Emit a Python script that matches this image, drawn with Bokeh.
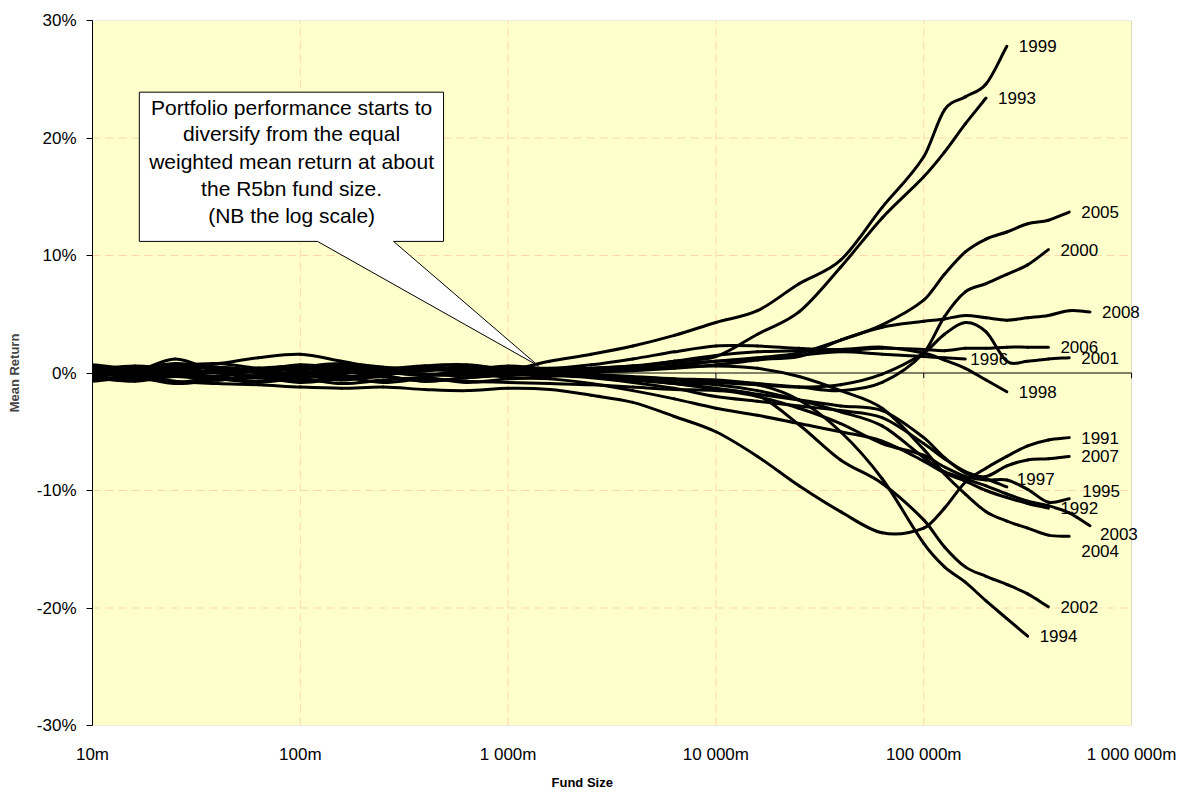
import math
from bokeh.plotting import figure
from bokeh.models import FixedTicker, Range1d, Label, BoxAnnotation, Title
from bokeh.core.properties import value
from bokeh.embed import file_html
from bokeh.resources import INLINE

# Fund size grid (Rm), log spaced
FUND_SIZE = [10, 16, 25, 40, 63, 100, 158, 251, 398, 631, 1000, 1585, 2512, 3981, 6310,
             10000, 15849, 25119, 39811, 63096, 100000, 125893, 158489, 199526, 251189,
             316228, 398107, 501187, 630957]

# Mean return (%) per year, aligned with FUND_SIZE (each series ends at its last point)
R1991 = [-0.3, -0.1, -0.7, -0.9, -1.0, -1.2, -1.3, -1.2, -1.4, -1.5, -1.3, -1.4, -1.9, -2.5, -3.7,
         -5.0, -7.1, -9.6, -11.8, -13.6, -13.2, -11.5, -9.3, -8.1, -7.1, -6.2, -5.7, -5.5]
R1992 = [0.1, 0.4, 0.0, -0.3, 0.2, -0.4, -0.1, 0.3, -0.2, 0.1, -0.4, -0.5, -0.9, -1.5, -2.2,
         -3.0, -3.6, -4.3, -5.0, -5.8, -7.5, -8.5, -9.2, -10.0, -10.6, -11.1, -11.5]
R1993 = [-0.2, 0.1, 1.2, 0.1, -0.3, 0.2, 0.6, 0.3, -0.1, -0.2, 0.1, 0.3, 0.4, 0.6, 1.0,
         1.4, 3.3, 5.2, 9.0, 13.2, 16.7, 18.8, 21.2, 23.4]
R1994 = [0.2, 0.5, 0.1, -0.3, 0.3, 0.6, 0.2, -0.2, 0.4, 0.1, 0.3, 0.0, -0.2, -0.4, -0.5,
         -0.7, -1.0, -2.3, -5.0, -9.0, -14.5, -16.5, -17.8, -19.4, -20.9, -22.4]
R1995 = [0.5, 0.2, 0.6, 0.8, 0.4, 0.3, 0.7, 0.4, 0.2, 0.6, 0.3, 0.1, -0.2, -0.5, -0.9,
         -1.4, -2.0, -3.0, -4.3, -6.0, -7.0, -8.0, -8.8, -9.1, -9.1, -9.9, -11.0, -10.7]
R1996 = [-0.6, -0.3, -0.8, -0.4, -0.7, -0.2, -0.6, -0.3, -0.7, -0.4, -0.2, 0.0, 0.1, 0.2, 0.4,
         0.7, 1.1, 1.5, 1.8, 1.6, 1.4, 1.3, 1.2]
R1997 = [0.0, -0.3, 0.2, 0.5, 0.2, -0.1, -0.4, -0.1, 0.2, 0.4, 0.0, -0.2, -0.4, -0.8, -1.3,
         -2.0, -2.4, -2.8, -3.2, -3.8, -6.0, -7.3, -8.4, -9.0, -9.7]
R1998 = [0.3, 0.6, 0.4, 0.8, 1.3, 1.6, 1.0, 0.4, 0.6, 0.3, 0.6, 0.4, 0.7, 1.2, 1.8,
         2.3, 2.3, 2.1, 2.0, 2.2, 1.7, 1.1, 0.4, -0.6, -1.6]
R1999 = [0.1, -0.2, 0.2, 0.0, 0.4, 0.1, -0.3, 0.0, 0.3, 0.5, 0.3, 1.0, 1.6, 2.3, 3.2,
         4.3, 5.3, 7.6, 9.6, 14.1, 18.4, 22.4, 23.5, 24.6, 27.8]
R2000 = [-0.2, 0.2, -0.2, 0.3, 0.0, -0.4, 0.1, 0.3, -0.2, 0.0, 0.2, 0.1, -0.1, -0.3, -0.5,
         -0.6, -0.9, -1.2, -1.5, -0.8, 1.7, 4.8, 6.9, 7.6, 8.4, 9.2, 10.5]
R2001 = [0.0, 0.3, -0.1, 0.2, -0.3, 0.0, 0.4, 0.1, -0.2, 0.2, 0.0, -0.1, -0.2, -0.4, -0.6,
         -0.8, -1.0, -1.2, -1.0, -0.1, 1.7, 3.3, 4.3, 3.5, 1.0, 1.0, 1.2, 1.3]
R2002 = [-0.4, -0.7, -0.3, -0.6, -0.2, -0.7, -0.4, -0.8, -0.5, -0.7, -0.8, -0.9, -1.0, -1.2, -1.4,
         -1.5, -1.9, -4.4, -7.4, -9.4, -12.5, -14.8, -16.5, -17.3, -18.0, -18.8, -19.9]
R2003 = [0.6, 0.3, 0.7, 0.3, 0.1, 0.5, 0.8, 0.5, 0.3, 0.2, 0.4, 0.2, -0.3, -0.6, -0.8,
         -1.0, -1.5, -2.3, -3.3, -4.5, -7.2, -8.4, -9.0, -9.6, -10.3, -10.9, -11.3, -11.9, -13.0]
R2004 = [-0.1, 0.1, 0.4, 0.0, -0.4, -0.1, 0.2, 0.0, 0.4, 0.1, -0.2, 0.1, 0.3, 0.4, 0.5,
         0.6, 0.4, -0.3, -1.5, -3.0, -6.5, -8.6, -10.3, -11.8, -12.6, -13.2, -13.8, -13.9]
R2005 = [0.2, 0.0, -0.3, 0.1, 0.4, 0.6, 0.3, 0.1, 0.5, 0.2, 0.5, 0.3, 0.3, 0.4, 0.6,
         1.0, 1.3, 1.7, 2.8, 4.1, 6.2, 8.4, 10.3, 11.4, 12.0, 12.7, 13.0, 13.7]
R2006 = [-0.3, -0.6, -0.2, -0.5, -0.8, -0.5, -0.9, -0.6, -0.4, -0.8, -0.5, -0.3, 0.0, 0.5, 1.0,
         1.5, 1.8, 1.9, 1.9, 2.1, 2.0, 1.9, 2.1, 2.1, 2.2, 2.2, 2.2]
R2007 = [0.7, 0.4, 0.8, 0.5, 0.3, 0.7, 0.4, 0.2, 0.6, 0.7, 0.3, 0.0, -0.3, -0.6, -0.9,
         -1.3, -1.8, -2.3, -2.8, -3.2, -5.5, -7.2, -8.5, -8.8, -7.9, -7.4, -7.3, -7.1]
R2008 = [-0.7, -0.4, -0.9, -0.6, -0.4, -0.8, -0.5, -0.3, -0.7, -0.4, -0.1, 0.2, 0.4, 0.6, 0.8,
         1.0, 1.2, 1.4, 2.8, 3.9, 4.4, 4.6, 4.9, 4.7, 4.5, 4.7, 4.9, 5.3, 5.2]

YEARS = ["1991", "1992", "1993", "1994", "1995", "1996", "1997", "1998", "1999",
         "2000", "2001", "2002", "2003", "2004", "2005", "2006", "2007", "2008"]
RETURNS = [R1991, R1992, R1993, R1994, R1995, R1996, R1997, R1998, R1999,
           R2000, R2001, R2002, R2003, R2004, R2005, R2006, R2007, R2008]

Y_TICKS = [-30, -20, -10, 0, 10, 20, 30]
Y_LABELS = ["-30%", "-20%", "-10%", "0%", "10%", "20%", "30%"]
X_TICKS = [10, 100, 1000, 10000, 100000, 1000000]
X_LABELS = ["10m", "100m", "1 000m", "10 000m", "100 000m", "1 000 000m"]

NOTE_LINES = ["Portfolio performance starts to", "diversify from the equal",
              "weighted mean return at about", "the R5bn fund size.", "(NB the log scale)"]

# axis extents (plot area spans X_MIN..X_MAX; a little room is kept on the right for labels)
X_MIN, X_MAX, X_VIEW_END = 10, 1000000, 1540000
Y_MIN, Y_MAX = -30, 30

# callout geometry (data units: Rm on x, % on y)
BOX_L, BOX_R, BOX_T, BOX_B = 16.8, 489, 23.9, 11.2
PTR_L, PTR_R = 121, 281
TIP_X, TIP_Y = 1400, 0.6
NOTE_X = 90.8
NOTE_Y = [22.6, 20.4, 18.0, 15.7, 13.4]

FONT = "Liberation Sans"
GRID_COLOR = "#FFD5AA"

p = figure(width=1180, height=795, x_axis_type="log",
           x_range=Range1d(X_MIN, X_VIEW_END), y_range=Range1d(Y_MIN, Y_MAX),
           output_backend="svg", toolbar_location=None,
           min_border_left=92, min_border_right=10, min_border_top=20, min_border_bottom=69,
           background_fill_color="white", border_fill_color="white")
p.outline_line_color = None
p.xgrid.visible = False
p.ygrid.visible = False

# plot area (yellow with grey border)
p.add_layout(BoxAnnotation(left=X_MIN, right=X_MAX, bottom=Y_MIN, top=Y_MAX,
                           fill_color="#FFFFCC", fill_alpha=1.0,
                           line_color="#808080", line_width=1, level="underlay"))

# dashed gridlines at the major ticks
inner_x = X_TICKS[1:-1]
p.segment(x0=inner_x, y0=[Y_MIN] * len(inner_x), x1=inner_x, y1=[Y_MAX] * len(inner_x),
          line_color=GRID_COLOR, line_width=1, line_dash="8 5")
inner_y = [t for t in Y_TICKS if t not in (Y_MIN, 0, Y_MAX)]
p.segment(x0=[X_MIN] * len(inner_y), y0=inner_y, x1=[X_MAX] * len(inner_y), y1=inner_y,
          line_color=GRID_COLOR, line_width=1, line_dash="8 5")

# y axis
p.yaxis.ticker = FixedTicker(ticks=Y_TICKS, minor_ticks=[])
p.yaxis.major_label_overrides = dict(zip(Y_TICKS, Y_LABELS))
p.yaxis.major_tick_out = 6
p.yaxis.major_tick_in = 0
p.yaxis.minor_tick_out = 0
p.yaxis.minor_tick_in = 0
p.yaxis.axis_line_color = "black"
p.yaxis.major_tick_line_color = "black"
p.yaxis.major_label_text_font = FONT
p.yaxis.major_label_text_font_size = "17px"
p.yaxis.major_label_text_color = "black"
p.yaxis.major_label_standoff = 10
p.yaxis.axis_label = "Mean Return"
p.yaxis.axis_label_text_font = FONT
p.yaxis.axis_label_text_font_style = "bold"
p.yaxis.axis_label_text_font_size = "13px"
p.yaxis.axis_label_standoff = 12

# x axis
p.xaxis.ticker = FixedTicker(ticks=X_TICKS, minor_ticks=[])
p.xaxis.major_label_overrides = dict(zip(X_TICKS, X_LABELS))
p.xaxis.major_tick_out = 0
p.xaxis.major_tick_in = 0
p.xaxis.minor_tick_out = 0
p.xaxis.minor_tick_in = 0
p.xaxis.axis_line_color = None
p.xaxis.major_label_text_font = FONT
p.xaxis.major_label_text_font_size = "17px"
p.xaxis.major_label_text_color = "black"
p.xaxis.major_label_standoff = 19

# x axis title, centred under the plot area (which is narrower than the frame)
p.add_layout(Title(text="Fund Size", align="left", offset=459, standoff=12,
                   text_font=FONT, text_font_style="bold", text_font_size="13px",
                   text_color="black"), "below")

# zero line with its tick marks
p.segment(x0=[X_MIN], y0=[0], x1=[X_MAX], y1=[0], line_color="black", line_width=1)
p.segment(x0=X_TICKS[1:], y0=[0] * (len(X_TICKS) - 1), x1=X_TICKS[1:],
          y1=[-0.45] * (len(X_TICKS) - 1), line_color="black", line_width=1)


def smooth_segments(xs, ys):
    """Cubic Hermite (smoothed line) control points in log-x space."""
    u = [math.log10(x) for x in xs]
    n = len(u)
    m = []
    for i in range(n):
        a, b = max(i - 1, 0), min(i + 1, n - 1)
        m.append((ys[b] - ys[a]) / (u[b] - u[a]))
    seg = dict(x0=[], y0=[], x1=[], y1=[], cx0=[], cy0=[], cx1=[], cy1=[])
    for i in range(n - 1):
        h = u[i + 1] - u[i]
        seg["x0"].append(xs[i]); seg["y0"].append(ys[i])
        seg["x1"].append(xs[i + 1]); seg["y1"].append(ys[i + 1])
        seg["cx0"].append(10 ** (u[i] + h / 3)); seg["cy0"].append(ys[i] + m[i] * h / 3)
        seg["cx1"].append(10 ** (u[i + 1] - h / 3)); seg["cy1"].append(ys[i + 1] - m[i + 1] * h / 3)
    return seg


# series (smoothed lines, as in the original)
for yr, vals in zip(YEARS, RETURNS):
    seg = smooth_segments(FUND_SIZE[:len(vals)], vals)
    p.bezier(**seg, line_color="black", line_width=3, line_cap="round")

# end labels
LABEL_OFFSETS = {"1996": (5, 0), "1997": (10, 8), "1995": (13, 8),
                 "2003": (10, -8), "2004": (12, -15)}
for yr, vals in zip(YEARS, RETURNS):
    ox, oy = LABEL_OFFSETS.get(yr, (12, 0))
    p.add_layout(Label(x=FUND_SIZE[len(vals) - 1], y=vals[-1], text=yr,
                       x_offset=ox, y_offset=oy,
                       text_font=FONT, text_font_size="17px", text_color="black",
                       text_baseline="middle", text_align="left"))

# callout
p.patch([BOX_L, BOX_R, BOX_R, PTR_R, TIP_X, PTR_L, BOX_L],
        [BOX_T, BOX_T, BOX_B, BOX_B, TIP_Y, BOX_B, BOX_B],
        fill_color="white", line_color="black", line_width=1)
p.text(x=[NOTE_X] * len(NOTE_LINES), y=NOTE_Y, text=NOTE_LINES,
       text_font=value(FONT), text_font_size="21px", text_color="black",
       text_baseline="middle", text_align="center")

open("out.html", "w").write(file_html(p, INLINE))
